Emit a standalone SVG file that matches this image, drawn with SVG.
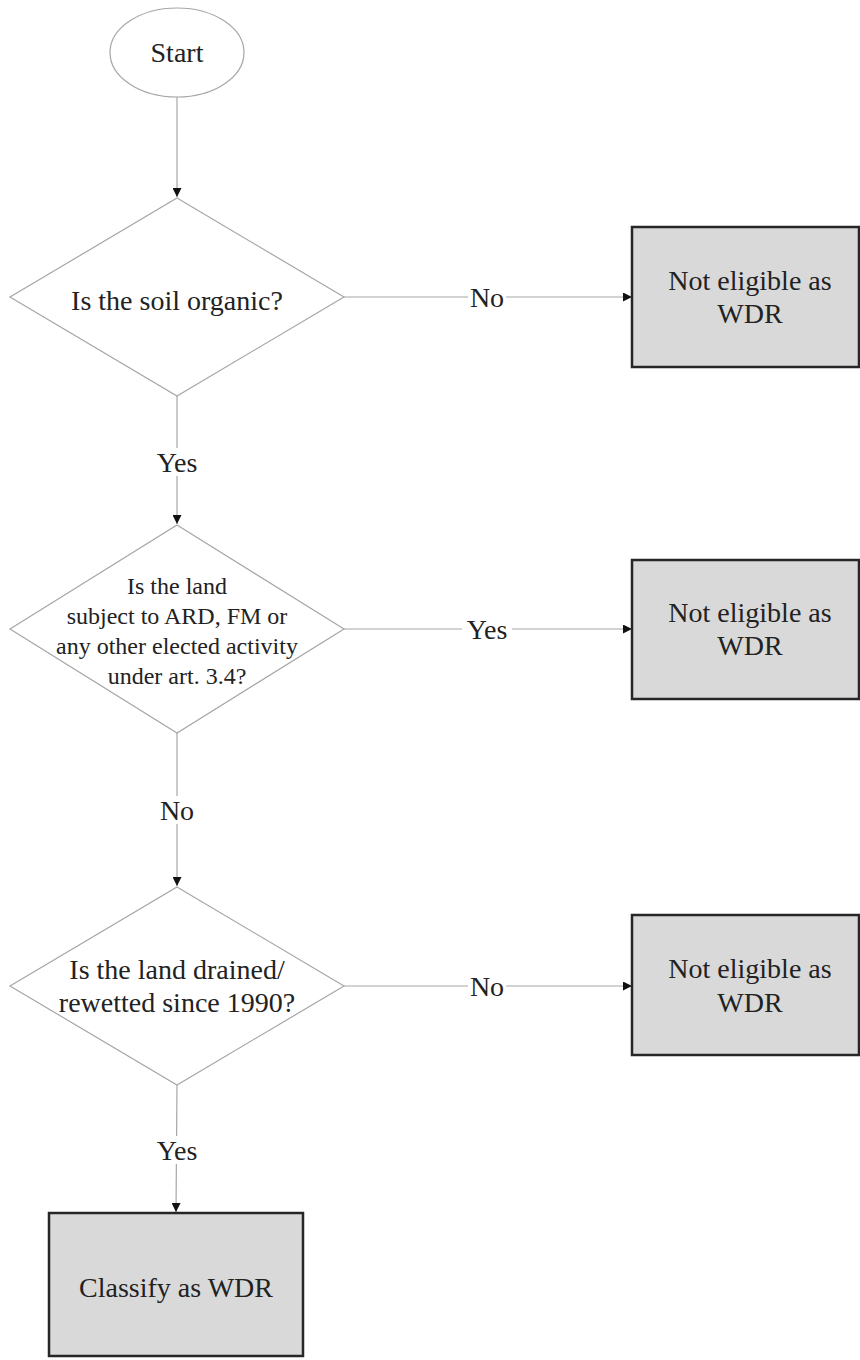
<svg xmlns="http://www.w3.org/2000/svg" width="860" height="1360" viewBox="0 0 860 1360">
  <style>
    .bg { fill: #ffffff; }
    .terminal { fill: #ffffff; stroke: #a6a6a6; stroke-width: 1.2; }
    .decision { fill: #ffffff; stroke: #a6a6a6; stroke-width: 1.2; }
    .outcome { fill: #d9d9d9; stroke: #262626; stroke-width: 2.5; }
    .edge { fill: none; stroke: #a6a6a6; stroke-width: 1.2; marker-end: url(#arrow); }
    .txt { font-family: "Liberation Serif", "Times New Roman", serif; font-size: 28px; fill: #222222; text-anchor: middle; }
    .small { font-size: 24px; }
    .lblbg { fill: #ffffff; }
  </style>
  <defs>
    <marker id="arrow" viewBox="0 0 10 10" refX="10" refY="5" markerWidth="10" markerHeight="9" markerUnits="userSpaceOnUse" orient="auto">
      <path d="M0,0 L10,5 L0,10 Z" fill="#111111"/>
    </marker>
  </defs>

  <rect class="bg" x="0" y="0" width="860" height="1360"/>

  <!-- connectors -->
  <g id="connectors">
    <line class="edge" x1="177" y1="97" x2="177" y2="197"/>
    <line class="edge" x1="344" y1="297" x2="632" y2="297"/>
    <line class="edge" x1="177" y1="396" x2="177" y2="524"/>
    <line class="edge" x1="344" y1="629" x2="632" y2="629"/>
    <line class="edge" x1="177" y1="733" x2="177" y2="886"/>
    <line class="edge" x1="344" y1="986" x2="632" y2="986"/>
    <line class="edge" x1="177" y1="1085" x2="176" y2="1212"/>

    <!-- edge labels -->
    <rect class="lblbg" x="468" y="283" width="38" height="28"/>
    <text class="txt" x="487" y="307">No</text>
    <rect class="lblbg" x="462" y="615" width="50" height="28"/>
    <text class="txt" x="487" y="639">Yes</text>
    <rect class="lblbg" x="468" y="972" width="38" height="28"/>
    <text class="txt" x="487" y="996">No</text>

    <rect class="lblbg" x="152" y="448" width="50" height="28"/>
    <text class="txt" x="177" y="472">Yes</text>
    <rect class="lblbg" x="158" y="796" width="38" height="28"/>
    <text class="txt" x="177" y="820">No</text>
    <rect class="lblbg" x="152" y="1136" width="50" height="28"/>
    <text class="txt" x="177" y="1160">Yes</text>
  </g>

  <!-- start terminal -->
  <g id="start">
    <ellipse class="terminal" cx="177" cy="52.5" rx="67" ry="44.5"/>
    <text class="txt" x="177" y="62">Start</text>
  </g>

  <!-- decision: organic soil -->
  <g id="q-organic">
    <polygon class="decision" points="177,198 344,297 177,396 10,297"/>
    <text class="txt" x="177" y="310">Is the soil organic?</text>
  </g>

  <!-- decision: other art. 3.4 activity -->
  <g id="q-activity">
    <polygon class="decision" points="177,525 344,629 177,733 10,629"/>
    <text class="txt small" x="177" y="594">Is the land</text>
    <text class="txt small" x="177" y="624">subject to ARD, FM or</text>
    <text class="txt small" x="177" y="654">any other elected activity</text>
    <text class="txt small" x="177" y="684">under art. 3.4?</text>
  </g>

  <!-- decision: drained / rewetted -->
  <g id="q-drained">
    <polygon class="decision" points="177,887 344,986 177,1085 10,986"/>
    <text class="txt" x="177" y="979">Is the land drained/</text>
    <text class="txt" x="177" y="1012">rewetted since 1990?</text>
  </g>

  <!-- outcomes -->
  <g id="out-not-organic">
    <rect class="outcome" x="632" y="227" width="227" height="140"/>
    <text class="txt" x="750" y="290">Not eligible as</text>
    <text class="txt" x="750" y="323">WDR</text>
  </g>

  <g id="out-activity">
    <rect class="outcome" x="632" y="560" width="227" height="139"/>
    <text class="txt" x="750" y="622">Not eligible as</text>
    <text class="txt" x="750" y="655">WDR</text>
  </g>

  <g id="out-not-drained">
    <rect class="outcome" x="632" y="915" width="227" height="140"/>
    <text class="txt" x="750" y="978">Not eligible as</text>
    <text class="txt" x="750" y="1012">WDR</text>
  </g>

  <g id="out-classify">
    <rect class="outcome" x="49" y="1213" width="254" height="143"/>
    <text class="txt" x="176" y="1297">Classify as WDR</text>
  </g>
</svg>
